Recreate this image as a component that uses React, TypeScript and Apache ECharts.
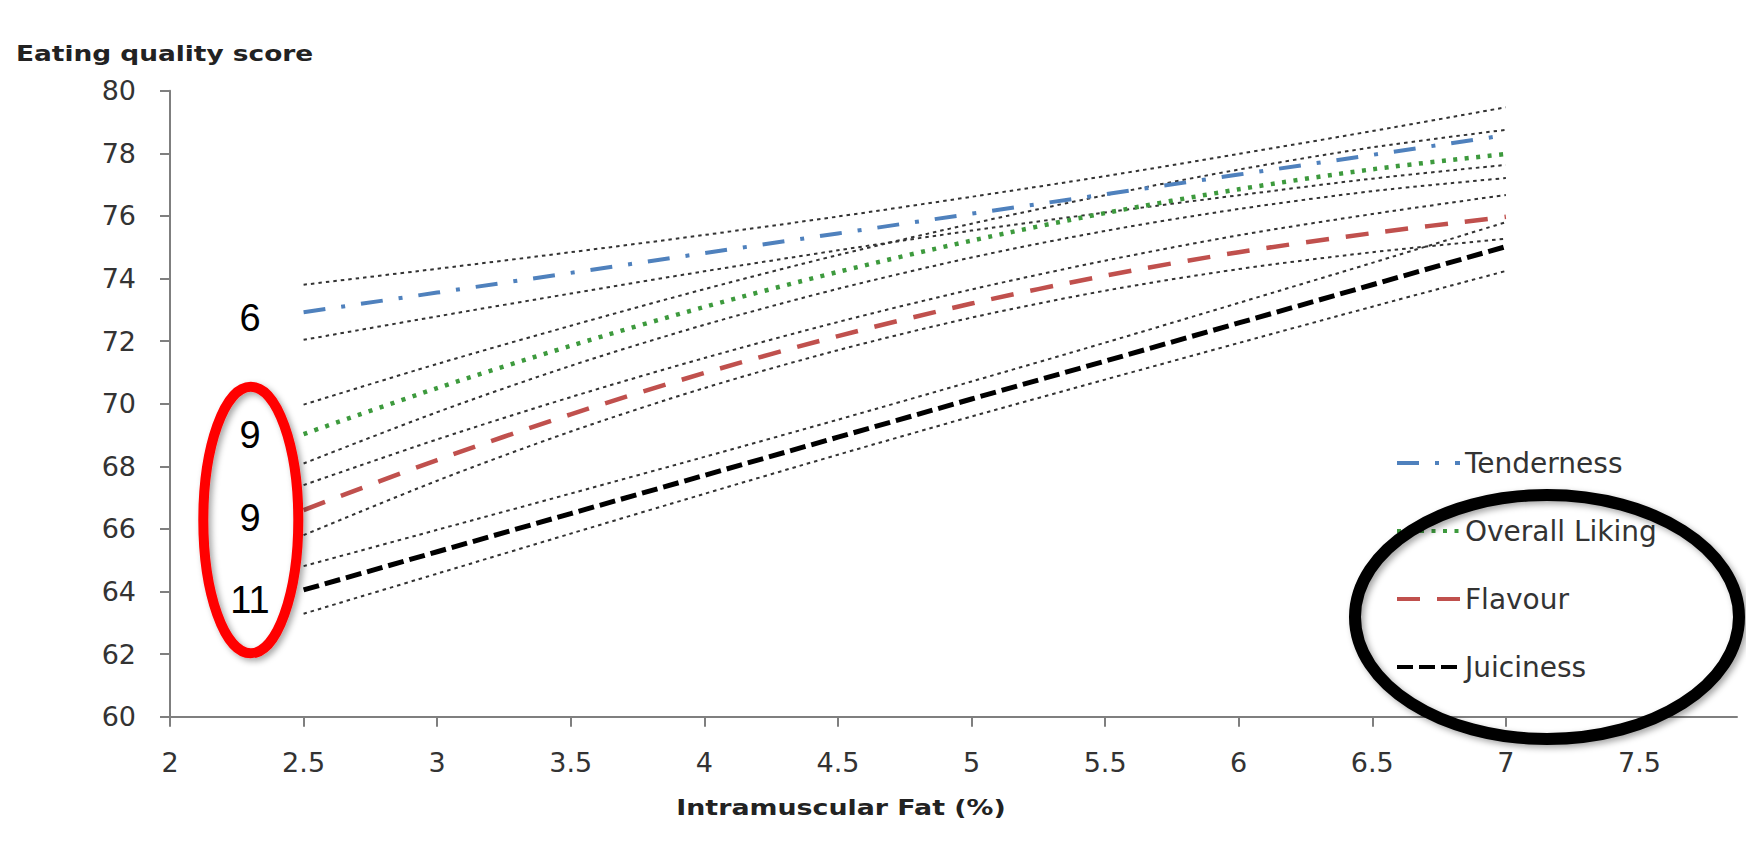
import React, { useEffect, useRef } from "react";
import * as echarts from "echarts";

const xValues = [2.5, 3, 3.5, 4, 4.5, 5, 5.5, 6, 6.5, 7];
const xTickLabels = [2, 2.5, 3, 3.5, 4, 4.5, 5, 5.5, 6, 6.5, 7, 7.5];

const tenderness = [72.92, 73.55, 74.18, 74.81, 75.44, 76.07, 76.69, 77.32, 77.95, 78.58];
const tendernessUpper = [73.8, 74.31, 74.84, 75.39, 75.98, 76.61, 77.27, 77.98, 78.71, 79.47];
const tendernessLower = [72.04, 72.79, 73.52, 74.23, 74.9, 75.53, 76.11, 76.66, 77.19, 77.63];

const liking = [69.03, 70.5, 71.85, 73.09, 74.21, 75.21, 76.09, 76.85, 77.49, 77.98];
const likingUpper = [69.97, 71.27, 72.49, 73.66, 74.75, 75.75, 76.66, 77.48, 78.19, 78.75];
const likingLower = [68.09, 69.73, 71.21, 72.52, 73.67, 74.67, 75.52, 76.22, 76.79, 77.21];

const flavour = [66.6, 68.2, 69.66, 70.98, 72.16, 73.2, 74.09, 74.84, 75.45, 75.97];
const flavourUpper = [67.4, 68.86, 70.21, 71.46, 72.61, 73.65, 74.57, 75.38, 76.06, 76.67];
const flavourLower = [65.8, 67.54, 69.11, 70.5, 71.71, 72.75, 73.61, 74.3, 74.84, 75.27];

const juiciness = [64.05, 65.27, 66.49, 67.71, 68.93, 70.15, 71.36, 72.58, 73.8, 75.02];
const juicinessUpper = [64.81, 65.97, 67.13, 68.3, 69.49, 70.71, 71.95, 73.22, 74.5, 75.8];
const juicinessLower = [63.29, 64.57, 65.85, 67.12, 68.37, 69.59, 70.77, 71.94, 73.1, 74.24];

const sampleCounts = ["6", "9", "9", "11"];

const pts = (arr: number[]) => xValues.map((x, i) => [x, arr[i]]);

export default function App() {
  const ref = useRef<HTMLDivElement>(null);
  useEffect(() => {
    if (!ref.current) return;
    const chart = echarts.init(ref.current, null, { renderer: "svg" });
    const ciStyle = { color: "#333333", width: 2, type: [3.5, 4] as any };
    const ciSeries = [
      tendernessUpper, tendernessLower, likingUpper, likingLower,
      flavourUpper, flavourLower, juicinessUpper, juicinessLower,
    ].map((arr, i) => ({
      type: "line",
      name: "CI" + i,
      data: pts(arr),
      symbol: "none",
      smooth: 0.3,
      lineStyle: ciStyle,
      itemStyle: { color: "#333333" },
      silent: true,
      z: 1,
    }));
    const labelY = [318, 435, 518, 600];
    chart.setOption({
      animation: false,
      backgroundColor: "#ffffff",
      grid: { left: 170, right: 9, top: 90.7, bottom: 126.3 },
      xAxis: {
        type: "value",
        min: 2,
        max: 7.865,
        interval: 0.5,
        axisLine: { lineStyle: { color: "#7f7f7f", width: 2 } },
        axisTick: { show: true, length: 10, lineStyle: { color: "#7f7f7f", width: 2 }, customValues: xTickLabels },
        axisLabel: {
          customValues: xTickLabels,
          fontFamily: "DejaVu Sans",
          fontSize: 27,
          color: "#333",
          margin: 32,
        },
        splitLine: { show: false },
      },
      yAxis: {
        type: "value",
        min: 60,
        max: 80,
        interval: 2,
        axisLine: { show: true, lineStyle: { color: "#7f7f7f", width: 2 } },
        axisTick: { show: true, length: 10, lineStyle: { color: "#7f7f7f", width: 2 } },
        axisLabel: { fontFamily: "DejaVu Sans", fontSize: 27, color: "#333", margin: 34 },
        splitLine: { show: false },
      },
      legend: {
        data: ["Tenderness", "Overall Liking", "Flavour", "Juiciness"],
        orient: "vertical",
        left: 1390,
        top: 443,
        itemWidth: 63,
        itemHeight: 30,
        itemGap: 38,
        itemStyle: { opacity: 0 },
        lineStyle: { width: 4 },
        textStyle: { fontFamily: "DejaVu Sans", fontSize: 28, color: "#333", lineHeight: 30 },
      },
      series: [
        ...ciSeries,
        {
          type: "line",
          name: "Tenderness",
          data: pts(tenderness),
          symbol: "none",
          lineStyle: { color: "#4F81BD", width: 4, type: [22, 16, 4, 16] },
          itemStyle: { color: "#4F81BD" },
          z: 3,
        },
        {
          type: "line",
          name: "Overall Liking",
          data: pts(liking),
          symbol: "none",
          smooth: 0.3,
          lineStyle: { color: "#3d9a3d", width: 4.5, type: [4, 7.5] },
          itemStyle: { color: "#3d9a3d" },
          z: 3,
        },
        {
          type: "line",
          name: "Flavour",
          data: pts(flavour),
          symbol: "none",
          smooth: 0.3,
          lineStyle: { color: "#C0504D", width: 4.5, type: [23, 17] },
          itemStyle: { color: "#C0504D" },
          z: 3,
        },
        {
          type: "line",
          name: "Juiciness",
          data: pts(juiciness),
          symbol: "none",
          lineStyle: { color: "#000000", width: 5, type: [16, 6] },
          itemStyle: { color: "#000000" },
          z: 3,
        },
      ],
      graphic: [
        {
          type: "text",
          x: 16,
          y: 53,
          scaleX: 1.2,
          style: {
            text: "Eating quality score",
            fontFamily: "DejaVu Sans",
            fontWeight: "bold",
            fontSize: 22,
            fill: "#222",
            textAlign: "left",
            textVerticalAlign: "middle",
          },
        },
        {
          type: "text",
          x: 841,
          y: 807,
          scaleX: 1.22,
          style: {
            text: "Intramuscular Fat (%)",
            fontFamily: "DejaVu Sans",
            fontWeight: "bold",
            fontSize: 22,
            fill: "#222",
            textAlign: "center",
            textVerticalAlign: "middle",
          },
        },
        ...sampleCounts.map((t, i) => ({
          type: "text",
          x: 250,
          y: labelY[i],
          style: {
            text: t,
            fontFamily: "Liberation Sans",
            fontSize: 38,
            fill: "#000",
            textAlign: "center",
            textVerticalAlign: "middle",
          },
        })),
        {
          type: "ellipse",
          shape: { cx: 250.8, cy: 520, rx: 47.5, ry: 133.3 },
          style: {
            fill: "none",
            stroke: "#FF0000",
            lineWidth: 10,
            shadowBlur: 6,
            shadowColor: "rgba(0,0,0,0.35)",
            shadowOffsetX: 3,
            shadowOffsetY: 3,
          },
          z: 100,
        },
        {
          type: "ellipse",
          shape: { cx: 1547, cy: 617, rx: 192, ry: 122 },
          style: {
            fill: "none",
            stroke: "#000000",
            lineWidth: 12,
            shadowBlur: 6,
            shadowColor: "rgba(0,0,0,0.35)",
            shadowOffsetX: 3,
            shadowOffsetY: 3,
          },
          z: 100,
        },
      ],
    });
    return () => chart.dispose();
  }, []);
  return (
    <div
      ref={ref}
      style={{ position: "fixed", left: 0, top: 0, width: 1746, height: 843, background: "#fff" }}
    />
  );
}
